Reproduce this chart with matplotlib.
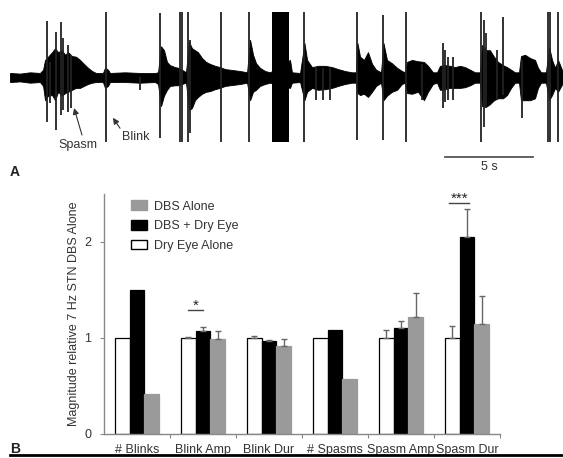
import matplotlib
matplotlib.use("Agg")
import matplotlib.pyplot as plt
from matplotlib.patches import Patch
from matplotlib.lines import Line2D
import numpy as np

plt.rcParams['font.family'] = ['Liberation Sans', 'DejaVu Sans']

# ---------------- Panel A: EMG trace (time in s, amplitude in a.u.) ----------------
env_t = [0.00, 0.57, 1.14, 1.70, 1.88, 1.99, 2.16, 2.39, 2.56, 2.73, 2.95, 3.13, 3.30, 3.52, 3.75,
         3.98, 4.20, 4.43, 4.66, 4.89, 5.28, 5.40, 5.57, 5.68, 6.53, 7.39, 8.24, 8.41, 8.58, 8.75,
         8.92, 9.09, 9.38, 9.55, 9.77, 10.00, 10.17, 10.34, 10.51, 10.68, 10.91, 11.14, 11.36,
         11.65, 11.93, 12.22, 12.50, 13.07, 13.47, 13.64, 13.81, 13.98, 14.20, 14.49, 14.77,
         15.91, 16.02, 16.48, 16.73, 16.88, 17.16, 17.50, 17.90, 18.30, 18.64, 19.03, 19.43,
         19.66, 19.74, 19.89, 20.11, 20.34, 20.57, 20.80, 21.08, 21.22, 21.42, 21.70, 21.99,
         22.27, 22.44, 22.56, 22.84, 23.18, 23.52, 23.75, 24.03, 24.26, 24.43, 24.72, 25.00,
         25.28, 25.57, 25.85, 26.14, 26.42, 26.70, 26.82, 27.05, 27.27, 27.50, 27.73, 28.01,
         28.24, 28.47, 28.69, 28.92, 29.03, 29.26, 29.55, 29.83, 30.00, 30.17, 30.45, 30.63,
         30.80, 30.97, 31.14, 31.42]
env_up = [0.7, 0.6, 0.8, 0.7, 1.2, 2.7, 3.2, 3.9, 4.5, 3.9, 4.2, 3.5, 3.9, 3.3, 3.2,
          2.7, 2.1, 1.5, 1.0, 0.7, 0.7, 1.5, 1.2, 0.7, 0.8, 0.7, 0.7, 0.8, 4.8, 4.2,
          2.4, 1.9, 1.6, 1.5, 1.2, 0.8, 5.5, 4.5, 4.2, 3.9, 3.0, 2.4, 2.1,
          1.8, 1.6, 1.3, 1.2, 1.0, 0.8, 5.8, 3.5, 2.2, 1.5, 1.0, 0.8,
          2.7, 0.8, 0.7, 5.3, 2.7, 1.6, 1.8, 1.8, 1.6, 1.3, 1.0, 0.8,
          0.8, 5.3, 3.2, 2.7, 3.9, 2.1, 1.2, 0.8, 5.3, 2.7, 2.2, 1.5,
          1.0, 0.8, 2.4, 2.7, 2.5, 2.4, 1.8, 0.8, 0.8, 1.8, 1.9, 1.8,
          1.6, 1.8, 1.6, 1.2, 0.8, 0.8, 5.0, 4.2, 4.2, 3.2, 2.4, 1.9,
          1.6, 1.2, 0.8, 0.8, 3.3, 3.5, 3.0, 2.7, 1.5, 0.8, 0.8, 4.7,
          2.7, 1.5, 2.7, 0.8]
env_lo = [-0.7, -0.6, -0.8, -0.7, -1.3, -3.5, -2.8, -2.7, -3.5, -2.2, -2.8, -2.4, -2.2, -1.9, -1.6,
          -1.6, -1.3, -1.0, -0.8, -0.7, -0.7, -1.6, -1.3, -0.7, -0.7, -0.8, -0.7, -1.0, -4.4, -2.8,
          -1.9, -1.3, -1.2, -1.2, -1.0, -0.8, -5.0, -4.7, -3.5, -3.0, -2.5, -2.2, -2.1,
          -1.8, -1.6, -1.3, -1.2, -1.0, -0.8, -3.5, -2.2, -1.9, -1.3, -1.0, -0.8,
          -1.6, -0.8, -0.7, -3.5, -2.2, -1.6, -1.9, -1.8, -1.6, -1.3, -1.0, -0.8,
          -0.8, -2.4, -2.7, -2.5, -3.0, -2.2, -1.3, -0.8, -3.5, -2.8, -2.2, -1.9,
          -1.0, -0.8, -2.4, -2.5, -2.2, -3.5, -2.2, -1.0, -0.8, -1.9, -1.8, -1.6,
          -1.6, -1.6, -1.5, -1.2, -0.8, -0.8, -4.4, -4.5, -4.1, -3.5, -3.2, -3.2,
          -2.7, -1.6, -0.8, -0.8, -3.5, -3.5, -3.5, -3.2, -1.6, -0.8, -0.8, -3.5,
          -2.7, -1.6, -2.2, -0.8]

spike_t = [2.09, 2.27, 2.61, 2.90, 3.01, 3.31, 3.47, 5.45, 7.39, 8.52, 9.66, 9.79, 10.13, 10.23,
           11.97, 13.60, 16.70, 17.39, 17.77, 18.18, 19.70, 21.18, 22.50, 23.41, 24.62, 24.72,
           24.90, 25.15, 26.76, 26.93, 27.05, 27.65, 27.99, 29.10, 30.59, 30.68, 31.15]
spike_top = [8.7, 2.4, 7.0, 8.6, 6.1, 5.0, 3.5, 10.1, 0.1, 9.9, 10.0, 10.0, 10.0, 5.8,
             10.0, 10.0, 10.0, 1.6, 1.5, 1.5, 10.0, 9.6, 10.0, 2.0, 5.3, 4.2,
             3.2, 3.2, 10.0, 8.8, 6.8, 4.2, 9.3, 2.7, 10.0, 10.0, 10.0]
spike_bot = [-6.8, -3.9, -8.1, -5.8, -5.0, -5.3, -4.7, -9.9, -1.9, -9.3, -9.9, -9.9, -9.9, -8.5,
             -9.9, -9.9, -9.9, -3.5, -3.5, -3.5, -9.6, -9.6, -9.9, -3.5, -4.7, -3.8,
             -3.5, -3.5, -9.9, -7.6, -4.7, -3.5, -2.7, -6.2, -9.9, -9.9, -9.9]

# sustained saturated burst
block_t = [14.87, 15.87]
block_top = 10.1
block_bot = -9.9

scale_bar_start = 24.72
scale_bar_len = 5.0

# ---------------- Panel B: bar chart ----------------
categories = ['# Blinks', 'Blink Amp', 'Blink Dur', '# Spasms', 'Spasm Amp', 'Spasm Dur']
dry_eye_alone = [1.0, 1.0, 1.0, 1.0, 1.0, 1.0]
dry_eye_alone_err = [0.0, 0.01, 0.02, 0.0, 0.08, 0.13]
dbs_dry_eye = [1.5, 1.07, 0.965, 1.08, 1.10, 2.05]
dbs_dry_eye_err = [0.0, 0.04, 0.015, 0.0, 0.08, 0.29]
dbs_alone = [0.42, 0.99, 0.92, 0.57, 1.22, 1.15]
dbs_alone_err = [0.0, 0.08, 0.07, 0.0, 0.245, 0.29]
yticks = [0, 1, 2]

W, H = 563, 458
fig = plt.figure(figsize=(W / 100, H / 100), dpi=100)

# ---- Panel A ----
axA = fig.add_axes([10 / W, 1 - 145 / H, 553 / W, 135 / H])
axA.fill_between(env_t, env_lo, env_up, color='black', lw=0.6, edgecolor='black')
axA.vlines(spike_t, spike_bot, spike_top, color='#222222', lw=1.3)
axA.fill_between(block_t, block_bot, block_top, color='black', lw=0)
axA.set_xlim(0, 31.42)
axA.set_ylim(-10.38, 10.38)
axA.axis('off')

# scale bar
axA.plot([scale_bar_start, scale_bar_start + scale_bar_len], [-12.3, -12.3], color='#555555',
         lw=1.3, clip_on=False)
axA.text(scale_bar_start + scale_bar_len / 2, -13.7, '5 s', ha='center', va='center',
         fontsize=9, color='#333333', clip_on=False)

arrow_kw = dict(arrowstyle='-|>', color='#333333', lw=0.8, mutation_scale=9, shrinkA=0, shrinkB=0)
axA.annotate('', xy=(3.64, -4.7), xytext=(4.09, -8.85), annotation_clip=False, arrowprops=arrow_kw)
axA.text(3.86, -10.4, 'Spasm', ha='center', va='center', fontsize=9, color='#333333', clip_on=False)
axA.annotate('', xy=(5.85, -6.2), xytext=(6.25, -7.8), annotation_clip=False, arrowprops=arrow_kw)
axA.text(7.16, -9.15, 'Blink', ha='center', va='center', fontsize=9, color='#333333', clip_on=False)

fig.text(15 / W, 1 - 172 / H, 'A', fontsize=10, fontweight='bold', ha='center', va='center',
         color='#222222')

# ---- Panel B ----
axB = fig.add_axes([104 / W, 1 - 434 / H, 396 / W, 240 / H])
x = np.arange(len(categories)) + 0.5
bw = 0.22
series = [(x - bw, dry_eye_alone, dry_eye_alone_err, 'white', 'black'),
          (x, dbs_dry_eye, dbs_dry_eye_err, 'black', 'black'),
          (x + bw, dbs_alone, dbs_alone_err, '#9a9a9a', '#9a9a9a')]
for xs, vals, errs, fc, ec in series:
    axB.bar(xs, vals, bw, color=fc, edgecolor=ec, lw=0.9)
    errs = np.asarray(errs)
    m = errs > 0
    axB.errorbar(np.asarray(xs)[m], np.asarray(vals)[m], yerr=[np.zeros(m.sum()), errs[m]],
                 fmt='none', ecolor='#666666', elinewidth=1.0, capsize=2, capthick=1.0)

axB.set_xlim(0, 6)
axB.set_ylim(0, 2.5)
for s in ['top', 'right']:
    axB.spines[s].set_visible(False)
for s in ['left', 'bottom']:
    axB.spines[s].set_color('#888888')
    axB.spines[s].set_linewidth(1.0)
axB.set_yticks(yticks)
axB.set_yticklabels([str(v) for v in yticks], fontsize=9, color='#333333')
axB.tick_params(axis='y', length=3, color='#888888', pad=6)
axB.set_xticks(np.arange(1, 7))
axB.set_xticklabels([])
axB.tick_params(axis='x', which='major', length=3, color='#888888')
axB.set_xticks(x, minor=True)
axB.set_xticklabels(categories, minor=True, fontsize=9, color='#333333')
axB.tick_params(axis='x', which='minor', length=0, pad=7)
axB.set_ylabel('Magnitude relative 7 Hz STN DBS Alone', fontsize=9, color='#333333', labelpad=3)

# significance markers
axB.plot([1.5 - bw, 1.5], [1.29, 1.29], color='#444444', lw=1.0, clip_on=False)
axB.text(1.5 - bw / 2, 1.34, '*', ha='center', va='center', fontsize=11, color='#222222')
axB.plot([5.5 - bw - 0.05, 5.5 + 0.03], [2.41, 2.41], color='#444444', lw=1.0, clip_on=False)
axB.text(5.5 - bw / 2, 2.455, '***', ha='center', va='center', fontsize=11, color='#222222',
         clip_on=False)

handles = [Patch(facecolor='#9a9a9a', edgecolor='#9a9a9a'),
           Patch(facecolor='black', edgecolor='black'),
           Patch(facecolor='white', edgecolor='black')]
axB.legend(handles, ['DBS Alone', 'DBS + Dry Eye', 'Dry Eye Alone'], loc='upper left',
           bbox_to_anchor=(0.04, 1.02), frameon=False, fontsize=9, handlelength=1.3,
           handleheight=0.8, handletextpad=0.5, labelspacing=0.6, labelcolor='#333333')

fig.text(15 / W, 1 - 449 / H, 'B', fontsize=10, fontweight='bold', ha='center', va='center',
         color='#222222')
fig.add_artist(Line2D([10 / W, 1.0], [1 - 454.5 / H, 1 - 454.5 / H], color='black', lw=2))

fig.savefig('out.png', dpi=100)
